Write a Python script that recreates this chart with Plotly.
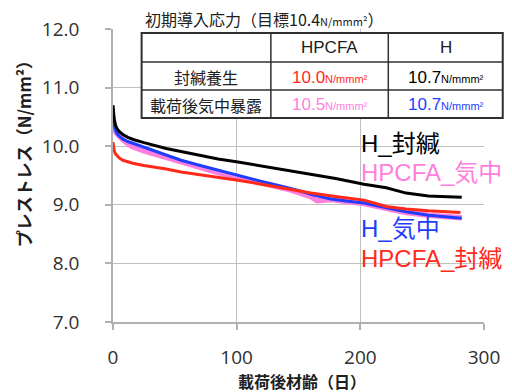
import plotly.graph_objects as go

# ---------------- data ----------------
h_seal_x = [0, 0.5, 1, 2, 3, 5, 8, 12, 17, 25, 35, 43, 55, 70, 85, 101, 115, 130, 149, 165, 180, 203, 215, 221, 237, 255, 265, 275, 282]
h_seal_y = [10.70, 10.55, 10.45, 10.36, 10.31, 10.25, 10.20, 10.15, 10.11, 10.06, 10.00, 9.96, 9.91, 9.84, 9.78, 9.73, 9.68, 9.62, 9.55, 9.50, 9.45, 9.35, 9.31, 9.29, 9.20, 9.15, 9.14, 9.13, 9.13]

hp_air_x = [0, 0.5, 1, 2, 3, 5, 8, 12, 16, 25, 35, 43, 55, 69, 85, 101, 120, 141, 160, 165, 176, 190, 203, 221, 237, 255, 270, 282]
hp_air_y = [10.48, 10.38, 10.32, 10.26, 10.22, 10.16, 10.11, 10.04, 9.99, 9.92, 9.86, 9.81, 9.72, 9.64, 9.55, 9.47, 9.38, 9.27, 9.14, 9.07, 9.09, 9.05, 9.02, 8.94, 8.87, 8.82, 8.80, 8.78]

h_air_x = [0, 0.5, 1, 2, 3, 5, 8, 12, 16, 25, 35, 43, 55, 69, 85, 101, 120, 141, 149, 160, 176, 190, 203, 221, 237, 255, 270, 282]
h_air_y = [10.65, 10.45, 10.35, 10.27, 10.22, 10.17, 10.12, 10.08, 10.05, 9.98, 9.90, 9.85, 9.76, 9.68, 9.59, 9.51, 9.40, 9.29, 9.25, 9.18, 9.10, 9.06, 9.03, 8.95, 8.88, 8.82, 8.79, 8.77]

hp_seal_x = [0, 0.5, 1, 2, 3, 5, 8, 12, 16, 25, 35, 43, 55, 69, 85, 101, 120, 141, 160, 180, 203, 221, 237, 255, 270, 281]
hp_seal_y = [10.07, 9.98, 9.92, 9.87, 9.84, 9.80, 9.76, 9.73, 9.71, 9.67, 9.64, 9.61, 9.56, 9.52, 9.47, 9.42, 9.35, 9.27, 9.20, 9.14, 9.08, 8.97, 8.93, 8.90, 8.88, 8.87]

series_names = ["HPCFA_気中", "H_気中", "HPCFA_封緘", "H_封緘"]
series_colors = ["#ff80dc", "#1f3dff", "#ff2a1a", "#000000"]

y_ticks = [7.0, 8.0, 9.0, 10.0, 11.0, 12.0]
x_ticks = [0, 100, 200, 300]

table_cols = ["HPCFA", "H"]
table_rows = ["封緘養生", "載荷後気中暴露"]
table_vals = [["10.0", "10.7"], ["10.5", "10.7"]]
table_val_colors = [["#ff2a1a", "#000000"], ["#ff80dc", "#1f3dff"]]
table_title = "初期導入応力（目標10.4"

# ---------------- layout helpers ----------------
W, H = 512, 392
L, R, T, B = 113, 489, 29, 322

def px(x):
    return (x - L) / (R - L)

def py(y):
    return (B - y) / (B - T)

JP = "Noto Sans CJK JP"
LAT = "Liberation Sans, Noto Sans CJK JP"

fig = go.Figure()
widths = [5.5, 3, 3, 3]
data = [(hp_air_x, hp_air_y), (h_air_x, h_air_y), (hp_seal_x, hp_seal_y), (h_seal_x, h_seal_y)]
for (xs, ys), name, col, w in zip(data, series_names, series_colors, widths):
    fig.add_trace(go.Scatter(x=xs, y=ys, mode="lines", name=name,
                             line=dict(color=col, width=w), showlegend=False))

axis_common = dict(showgrid=True, gridcolor="#c0c0c0", gridwidth=1.3,
                   showline=True, linecolor="#b0b0b0", linewidth=1.5,
                   ticks="outside", ticklen=6, tickcolor="#b0b0b0", tickwidth=1.5,
                   zeroline=False, tickfont=dict(family="Open Sans", size=19, color="#303030"))

fig.update_xaxes(range=[0, 300], tickvals=x_ticks, ticktext=[str(v) for v in x_ticks],
                 ticklabelstandoff=11, **axis_common)
fig.update_yaxes(range=[7.0, 12.0], tickvals=y_ticks, ticktext=[f"{v:.1f}" for v in y_ticks],
                 ticklabelstandoff=22, **axis_common)

shapes = []
annotations = []

# table
cx = [142, 273, 392, 508]
ry = [33, 62, 90, 118]
shapes.append(dict(type="rect", xref="paper", yref="paper", x0=px(cx[0]), x1=px(cx[-1]),
                   y0=py(ry[-1]), y1=py(ry[0]), fillcolor="white",
                   line=dict(color="#303030", width=2), layer="above"))
for xv in cx[1:-1]:
    shapes.append(dict(type="line", xref="paper", yref="paper", x0=px(xv), x1=px(xv),
                       y0=py(ry[-1]), y1=py(ry[0]), line=dict(color="#303030", width=1.5), layer="above"))
for yv in ry[1:-1]:
    shapes.append(dict(type="line", xref="paper", yref="paper", x0=px(cx[0]), x1=px(cx[-1]),
                       y0=py(yv), y1=py(yv), line=dict(color="#303030", width=1.5), layer="above"))

def ann(x, y, text, size, color="#000", xanchor="center", font=LAT, angle=0):
    annotations.append(dict(x=px(x), y=py(y), xref="paper", yref="paper", text=text,
                            showarrow=False, xanchor=xanchor, yanchor="middle",
                            textangle=angle, font=dict(family=font, size=size, color=color)))

ann(143, 19, table_title + "<span style='font-size:11px'>N/mmm²</span>）", 16, "#202020", "left", JP)
for j, c in enumerate(table_cols):
    ann((cx[j + 1] + cx[j + 2]) / 2, (ry[0] + ry[1]) / 2, c, 17, "#202020")
for i, r in enumerate(table_rows):
    ann((cx[0] + cx[1]) / 2, (ry[i + 1] + ry[i + 2]) / 2 + 1, r, 16, "#202020", font=JP)
    for j in range(2):
        ann((cx[j + 1] + cx[j + 2]) / 2, (ry[i + 1] + ry[i + 2]) / 2 + 1,
            table_vals[i][j] + "<span style='font-size:11px'>N/mmm²</span>", 17,
            table_val_colors[i][j])

# series labels
label_pos = {"H_封緘": 143, "HPCFA_気中": 172, "H_気中": 228, "HPCFA_封緘": 258}
for name, col in zip(series_names, series_colors):
    ann(362, label_pos[name], name, 24, col, "left")

# axis titles
ann(305, 381, "<b>載荷後材齢（日）</b>", 16, "#202020", font=JP)
ann(22, 150, "<b>プレストレス（N/mm²）</b>", 17, "#202020", font=JP, angle=-90)

fig.update_layout(width=W, height=H, margin=dict(l=L, r=W - R, t=T, b=H - B),
                  plot_bgcolor="white", paper_bgcolor="white",
                  shapes=shapes, annotations=annotations)

fig.write_html("out.html")
